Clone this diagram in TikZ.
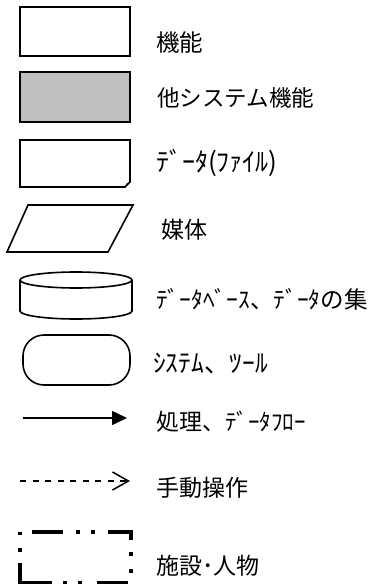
\documentclass[tikz,border=0pt]{standalone}
\usepackage{fontspec}
\newfontfamily\jp{Noto Sans CJK JP}
\usetikzlibrary{arrows.meta}
\definecolor{othergray}{HTML}{C0C0C0}
\tikzset{
  shp/.style={draw=black, line width=1.6pt},
  lbl/.style={anchor=west, inner sep=0pt},
  flow/.style={line width=1.5pt, -{Triangle[length=15pt,width=14pt]}},
  manual/.style={line width=1.3pt, dash pattern=on 6pt off 6.5pt, -{Straight Barb[length=16pt,width=18pt,line width=1.5pt]}},
  facil/.style={line width=3.6pt, line cap=butt, line join=miter},
}
\begin{document}
\begin{tikzpicture}[x=1pt,y=-1pt]
\useasboundingbox (0,0) rectangle (374,586);
% function box
\node[shp, minimum width=110pt, minimum height=49pt, inner sep=0pt] (fn) at (75,31.5) {};
\node[lbl, font=\jp\fontsize{23.5pt}{27pt}\selectfont] (fnl) at (156,43) {機能};
% other system function
\node[shp, fill=othergray, minimum width=110pt, minimum height=50pt, inner sep=0pt] (oth) at (75,97) {};
\node[lbl, font=\jp\fontsize{22.5pt}{26pt}\selectfont] (othl) at (157,98) {他システム機能};
% data (file)
\draw[shp] (20,140) -- (130,140) -- (130,182) -- (125,187) -- (20,187) -- cycle;
\fill (130,182) -- (125,187) -- (126.5,183.5) -- cycle;
\node[lbl, font=\jp\fontsize{26pt}{30pt}\selectfont] (filel) at (156,163) {ﾃﾞｰﾀ(ﾌｧｲﾙ)};
% media
\draw[shp] (28,205) -- (133,205) -- (108,252) -- (7,252) -- cycle;
\node[lbl, font=\jp\fontsize{23pt}{27pt}\selectfont] (medl) at (161,230) {媒体};
% database cylinder
\draw[shp] (76,280) ellipse [x radius=56pt, y radius=8pt];
\draw[shp] (20,280) -- (20,311) .. controls (20,315.4) and (45.1,319) .. (76,319)
  .. controls (106.9,319) and (132,315.4) .. (132,311) -- (132,280);
\node[lbl, font=\jp\fontsize{23.5pt}{27pt}\selectfont] (dbl) at (156,299) {ﾃﾞｰﾀﾍﾞｰｽ、ﾃﾞｰﾀの集};
% system / tool
\node[shp, rounded corners=21pt, minimum width=107pt, minimum height=50pt, inner sep=0pt] (sys) at (76.5,360) {};
\node[lbl, font=\jp\fontsize{25.5pt}{29pt}\selectfont] (sysl) at (153,363) {ｼｽﾃﾑ、ﾂｰﾙ};
% flow arrow
\coordinate (f1) at (23,418);
\coordinate (f2) at (127,418);
\draw[flow] (f1) -- (f2);
\node[lbl, font=\jp\fontsize{23pt}{27pt}\selectfont] (flowl) at (156,422) {処理、ﾃﾞｰﾀﾌﾛｰ};
% manual operation
\coordinate (m1) at (20,481);
\coordinate (m2) at (130,481);
\draw[manual] (m1) -- (m2);
\node[lbl, font=\jp\fontsize{23pt}{27pt}\selectfont] (manl) at (156,488) {手動操作};
% facility / person
\draw[facil] (20,531.5) -- (20,535);
\draw[facil] (32,532) -- (63,532);
\draw[facil] (76,532) -- (80,532);
\draw[facil] (91,532) -- (95,532);
\draw[facil] (108,532) -- (131,532) -- (131,540);
\draw[facil] (131,552) -- (131,556);
\draw[facil] (131,569) -- (131,573);
\draw[facil] (128,582.5) -- (97,582.5);
\draw[facil] (82,582.5) -- (78,582.5);
\draw[facil] (67,582.5) -- (63,582.5);
\draw[facil] (52,582.5) -- (20,582.5) -- (20,563);
\draw[facil] (20,548) -- (20,552);
\node[lbl, font=\jp\fontsize{23pt}{27pt}\selectfont] (facl) at (156,566) {施設･人物};
\end{tikzpicture}
\end{document}
